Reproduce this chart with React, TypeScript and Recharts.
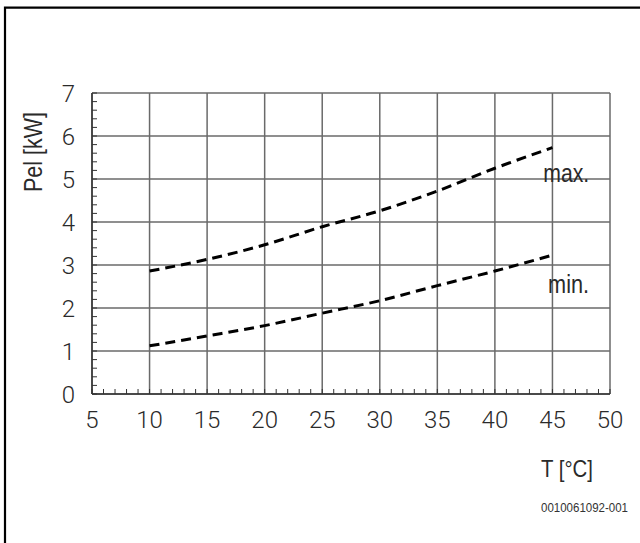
import React from "react";
import {
  LineChart,
  Line,
  XAxis,
  YAxis,
  CartesianGrid,
  ReferenceDot,
} from "recharts";

const temperatures = [10, 15, 20, 25, 30, 35, 40, 45];
const maxPower = [2.86, 3.13, 3.47, 3.89, 4.26, 4.72, 5.25, 5.73];
const minPower = [1.12, 1.35, 1.59, 1.88, 2.17, 2.52, 2.86, 3.23];

const xTicks = [5, 10, 15, 20, 25, 30, 35, 40, 45, 50];
const yTicks = [0, 1, 2, 3, 4, 5, 6, 7];
const xMinorTicks = Array.from({ length: 46 }, (_, i) => 5 + i);
const yMinorTicks = Array.from({ length: 36 }, (_, i) => Math.round(i * 2) / 10);

const seriesLabels = [
  { text: "max.", x: 46.2, y: 5.14, w: 46 },
  { text: "min.", x: 46.4, y: 2.56, w: 41 },
];

const data = temperatures.map((t, i) => ({ t, max: maxPower[i], min: minPower[i] }));

const narrow = "'Liberation Sans', Arial, sans-serif";
const tickFamily = "Roboto, sans-serif";
const textColor = "#2a2a2a";
const axisColor = "#333";
const MARGIN = 17;

const XTick = (props: any) => {
  const { x, y, payload } = props;
  const v = payload.value;
  const axisY = y - MARGIN;
  const isMajor = xTicks.includes(v);
  return (
    <g>
      <line x1={x} x2={x} y1={axisY} y2={axisY - 5} stroke={axisColor} strokeWidth={1} />
      {isMajor && (
        <text x={x} y={y} dy="0.71em" textAnchor="middle" fontFamily={tickFamily} fontWeight={300} fontSize={24} fill={textColor}>
          {v}
        </text>
      )}
    </g>
  );
};

const YTick = (props: any) => {
  const { x, y, payload } = props;
  const v = payload.value;
  const axisX = x + MARGIN;
  const isMajor = yTicks.includes(v);
  return (
    <g>
      <line x1={axisX} x2={axisX + 5} y1={y} y2={y} stroke={axisColor} strokeWidth={1} />
      {isMajor && (
        <text x={x} y={y} dy="0.355em" textAnchor="end" fontFamily={tickFamily} fontWeight={300} fontSize={24} fill={textColor}>
          {v}
        </text>
      )}
    </g>
  );
};

export default function App() {
  return (
    <div style={{ position: "absolute", left: 0, top: 0, width: 640, height: 543, background: "#fff" }}>
      <LineChart
        width={640}
        height={543}
        data={data}
        margin={{ top: 93, right: 30, bottom: 0, left: 0 }}
      >
        <CartesianGrid
          stroke="#6a6a6a"
          strokeWidth={1.5}
          horizontalValues={yTicks}
          verticalValues={xTicks}
        />
        <XAxis
          dataKey="t"
          type="number"
          domain={[5, 50]}
          ticks={xMinorTicks}
          height={149}
          axisLine={{ stroke: axisColor, strokeWidth: 1.5 }}
          tickLine={false}
          tickSize={0}
          tickMargin={MARGIN}
          tick={<XTick />}
          interval={0}
        />
        <YAxis
          type="number"
          domain={[0, 7]}
          ticks={yMinorTicks}
          width={92}
          axisLine={{ stroke: axisColor, strokeWidth: 1.5 }}
          tickLine={false}
          tickSize={0}
          tickMargin={MARGIN}
          tick={<YTick />}
          interval={0}
        />
        <Line
          dataKey="max"
          type="monotone"
          stroke="#000"
          strokeWidth={3}
          strokeDasharray="10 6"
          dot={false}
          isAnimationActive={false}
        />
        <Line
          dataKey="min"
          type="monotone"
          stroke="#000"
          strokeWidth={3}
          strokeDasharray="10 6"
          dot={false}
          isAnimationActive={false}
        />
        {seriesLabels.map((l) => (
          <ReferenceDot
            key={l.text}
            x={l.x}
            y={l.y}
            r={0}
            shape={(p: any) => (
              <text
                x={p.cx}
                y={p.cy}
                dy="0.35em"
                textAnchor="middle"
                fontFamily={narrow}
                fontSize={25}
                fill={textColor}
                textLength={l.w}
                lengthAdjust="spacingAndGlyphs"
              >
                {l.text}
              </text>
            )}
          />
        ))}
      </LineChart>
      <svg
        width={640}
        height={543}
        style={{ position: "absolute", left: 0, top: 0, pointerEvents: "none" }}
      >
        <path d="M5,560 V7.7 H660" fill="none" stroke="#000" strokeWidth={2.2} />
        <text
          x={42}
          y={152}
          transform="rotate(-90 42 152)"
          textAnchor="middle"
          fontFamily={narrow}
          fontSize={25}
          fill={textColor}
          textLength={80}
          lengthAdjust="spacingAndGlyphs"
        >
          Pel [kW]
        </text>
        <text
          x={541}
          y={477}
          fontFamily={narrow}
          fontSize={24}
          fill={textColor}
          textLength={52}
          lengthAdjust="spacingAndGlyphs"
        >
          T [°C]
        </text>
        <text
          x={541}
          y={511.7}
          fontFamily={narrow}
          fontSize={12.5}
          fill="#333"
          textLength={87}
          lengthAdjust="spacingAndGlyphs"
        >
          0010061092-001
        </text>
      </svg>
    </div>
  );
}
